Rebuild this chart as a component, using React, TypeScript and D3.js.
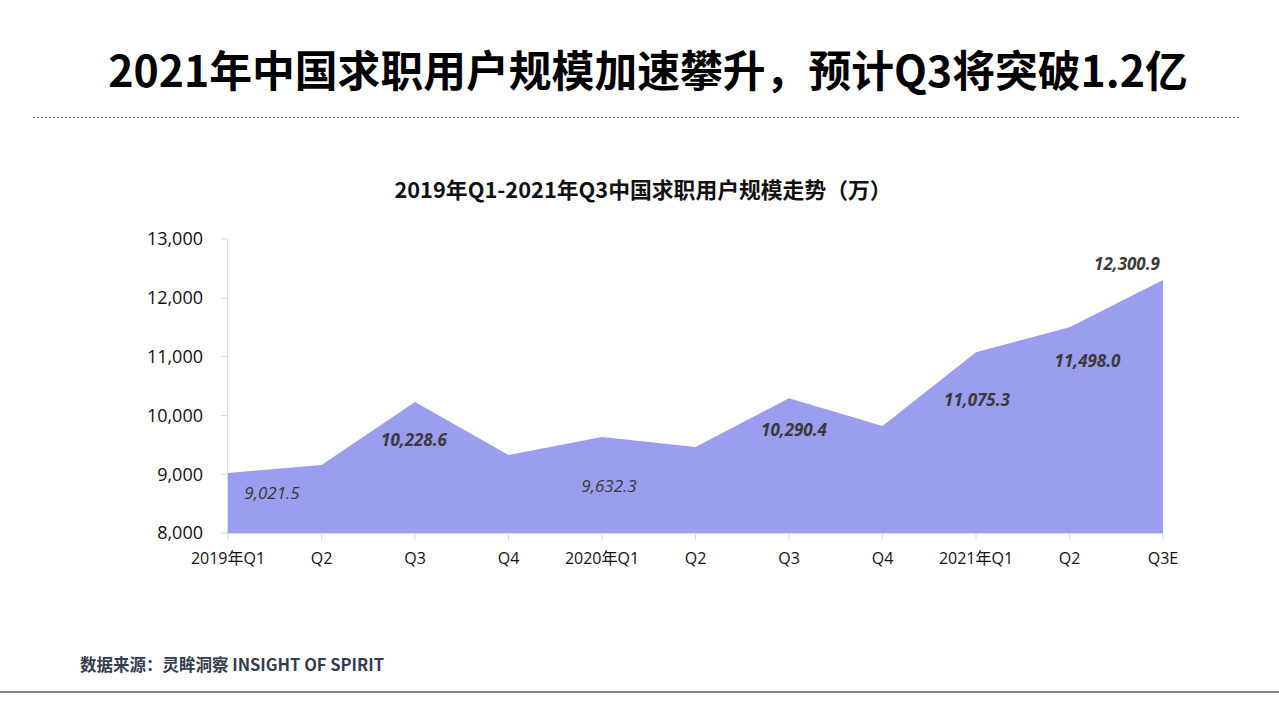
import React from 'react';
import * as d3 from 'd3';

// quarter labels on the x axis
const quarters = ['2019年Q1', 'Q2', 'Q3', 'Q4', '2020年Q1', 'Q2', 'Q3', 'Q4', '2021年Q1', 'Q2', 'Q3E'];
// job seeker users, 10k
const users = [9021.5, 9156, 10228.6, 9327, 9632.3, 9463, 10290.4, 9820, 11075.3, 11498.0, 12300.9];
// which points carry a value label
const labelled = [true, false, true, false, true, false, true, false, true, true, true];
const boldLabel = [false, false, true, false, false, false, true, false, true, true, true];
const yTicks = [8000, 9000, 10000, 11000, 12000, 13000];

// hand placed label offsets (px from the point)
const labelOffsets: [number, number][] = [
  [44, 26], [0, 0], [-1, 44], [0, 0], [7, 55], [0, 0], [5, 38], [0, 0], [1, 54], [18, 40], [-36, -10],
];

const W = 1279;
const H = 719;
const cjk = '"Noto Sans CJK SC", "Microsoft YaHei", sans-serif';
const latin = '"Open Sans", "Noto Sans CJK SC", sans-serif';

export default function App() {
  const margin = { top: 239, right: 116, bottom: 186, left: 228 };
  const x = d3
    .scalePoint<number>()
    .domain(quarters.map((_, i) => i))
    .range([margin.left, W - margin.right]);
  const y = d3.scaleLinear().domain([8000, 13000]).range([H - margin.bottom, margin.top]);

  const area = d3
    .area<number>()
    .x((_, i) => x(i) as number)
    .y0(y(8000))
    .y1(d => y(d));

  const fmt = d3.format(',.1f');
  const tickFmt = d3.format(',');

  return (
    <div style={{ position: 'absolute', left: 0, top: 0 }}>
      <svg width={W} height={H} style={{ display: 'block', background: '#fff' }}>
        {/* page title */}
        <text x={648} y={87} textAnchor="middle" fontFamily={cjk} fontWeight={700} fontSize={42.8} fill="#000">
          2021年中国求职用户规模加速攀升，预计Q3将突破1.2亿
        </text>
        <line x1={33} x2={1240} y1={117.5} y2={117.5} stroke="#555" strokeWidth={1} strokeDasharray="2,2" />

        {/* chart title */}
        <text x={643} y={198} textAnchor="middle" fontFamily={cjk} fontWeight={700} fontSize={21.8} fill="#111">
          2019年Q1-2021年Q3中国求职用户规模走势（万）
        </text>

        {/* area */}
        <path d={area(users) || ''} fill="#9b9dee" />

        {/* y axis */}
        <line x1={margin.left - 0.5} x2={margin.left - 0.5} y1={y(13000)} y2={y(8000)} stroke="#d9d9d9" />
        {yTicks.map(t => (
          <g key={t}>
            <line x1={margin.left - 7} x2={margin.left} y1={y(t)} y2={y(t)} stroke="#d9d9d9" />
            <text x={203} y={y(t)} dy="0.35em" textAnchor="end" fontFamily={latin} fontSize={18} fill="#111">
              {tickFmt(t)}
            </text>
          </g>
        ))}

        {/* x axis */}
        <line x1={margin.left} x2={W - margin.right} y1={y(8000) + 0.5} y2={y(8000) + 0.5} stroke="#d9d9d9" />
        {quarters.map((q, i) => (
          <g key={i}>
            <line x1={x(i)} x2={x(i)} y1={y(8000)} y2={y(8000) + 7} stroke="#d9d9d9" />
            <text x={x(i)} y={564} textAnchor="middle" fontFamily={latin} fontSize={16} fill="#111">
              {q}
            </text>
          </g>
        ))}

        {/* value labels */}
        {users.map((v, i) =>
          labelled[i] ? (
            <text
              key={i}
              x={(x(i) as number) + labelOffsets[i][0]}
              y={y(v) + labelOffsets[i][1]}
              textAnchor="middle"
              fontFamily={latin}
              fontStyle="italic"
              fontWeight={boldLabel[i] ? 700 : 400}
              fontSize={17}
              fill="#3a3a3a"
            >
              {fmt(v)}
            </text>
          ) : null
        )}

        {/* footer */}
        <text x={80} y={671} fontFamily={cjk} fontWeight={700} fontSize={16.5} fill="#333c4e">
          数据来源：灵眸洞察 INSIGHT OF SPIRIT
        </text>
        <line x1={0} x2={W} y1={692} y2={692} stroke="#7f8393" strokeWidth={2} />
      </svg>
    </div>
  );
}
